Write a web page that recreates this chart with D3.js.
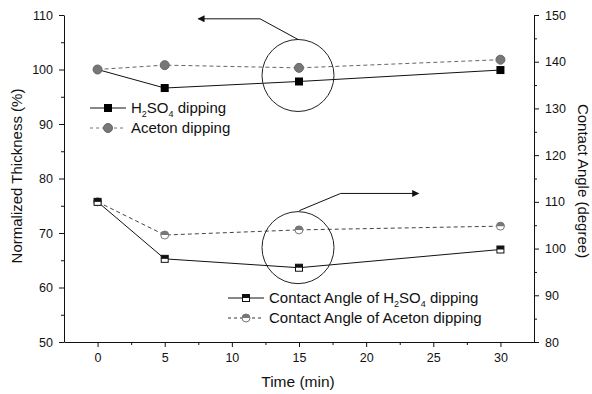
<!DOCTYPE html>
<html>
<head>
<meta charset="utf-8">
<script src="https://cdn.jsdelivr.net/npm/d3@7"></script>
<style>
  body { margin: 0; background: #fff; }
  svg text { font-family: "Liberation Sans", Arial, sans-serif; fill: #111; }
</style>
</head>
<body>
<div id="chart"></div>
<script>
// data
var times = [0, 5, 15, 30]
var thickH2SO4 = [100, 96.6, 97.8, 99.9]
var thickAceton = [100, 100.8, 100.3, 101.8]
var angleH2SO4 = [110, 97.8, 95.9, 99.8]
var angleAceton = [110, 102.9, 104.0, 104.8]

var xTicks = [0, 5, 10, 15, 20, 25, 30]
var leftTicks = [50, 60, 70, 80, 90, 100, 110]
var rightTicks = [80, 90, 100, 110, 120, 130, 140, 150]

var width = 592
var height = 394

var svg = d3.select("#chart")
  .append("svg")
    .attr("width", width)
    .attr("height", height)

var x = d3.scaleLinear().domain([-2.5, 32.5]).range([64, 534])
var yL = d3.scaleLinear().domain([50, 110]).range([342, 15])
var yR = d3.scaleLinear().domain([80, 150]).range([342, 15])

// axes
function styleAxis(g) {
  g.selectAll("path, line").attr("stroke", "#111").attr("stroke-width", 1)
  g.selectAll("text").style("font-size", "12.5px").attr("fill", "#111")
}

svg.append("g")
  .attr("transform", "translate(0,342)")
  .call(d3.axisBottom(x).tickValues(xTicks).tickSize(5).tickSizeOuter(0).tickPadding(6))
  .call(styleAxis)
svg.append("g")
  .attr("transform", "translate(0,342)")
  .call(d3.axisBottom(x).tickValues(d3.range(2.5, 30, 5)).tickSize(3).tickFormat(""))
  .call(styleAxis)
  .select(".domain").remove()

svg.append("g")
  .attr("transform", "translate(64,0)")
  .call(d3.axisLeft(yL).tickValues(leftTicks).tickSize(5).tickSizeOuter(0).tickPadding(6))
  .call(styleAxis)
svg.append("g")
  .attr("transform", "translate(64,0)")
  .call(d3.axisLeft(yL).tickValues(d3.range(55, 110, 10)).tickSize(3).tickFormat(""))
  .call(styleAxis)
  .select(".domain").remove()

svg.append("g")
  .attr("transform", "translate(534,0)")
  .call(d3.axisRight(yR).tickValues(rightTicks).tickSize(5).tickSizeOuter(0).tickPadding(6))
  .call(styleAxis)
svg.append("g")
  .attr("transform", "translate(534,0)")
  .call(d3.axisRight(yR).tickValues(d3.range(85, 150, 10)).tickSize(3).tickFormat(""))
  .call(styleAxis)
  .select(".domain").remove()

// axis titles
svg.append("text")
  .attr("transform", "translate(22,176) rotate(-90)")
  .attr("text-anchor", "middle")
  .style("font-size", "15px")
  .text("Normalized Thickness (%)")
svg.append("text")
  .attr("transform", "translate(578,181) rotate(90)")
  .attr("text-anchor", "middle")
  .style("font-size", "15px")
  .text("Contact Angle (degree)")
svg.append("text")
  .attr("x", 298).attr("y", 387)
  .attr("text-anchor", "middle")
  .style("font-size", "15.5px")
  .text("Time (min)")

// lines
function drawLine(vals, y, color, dash) {
  var line = d3.line()
    .x(function(d, i) { return x(times[i]) })
    .y(function(d) { return y(d) })
  svg.append("path")
    .datum(vals)
    .attr("d", line)
    .attr("fill", "none")
    .attr("stroke", color)
    .attr("stroke-width", 1)
    .attr("stroke-dasharray", dash)
}
drawLine(thickAceton, yL, "#666", "4,3")
drawLine(thickH2SO4, yL, "#111", null)
drawLine(angleAceton, yR, "#444", "4,3")
drawLine(angleH2SO4, yR, "#111", null)

// markers
function squareFull(g, cx, cy) {
  g.append("rect").attr("x", cx - 4).attr("y", cy - 4).attr("width", 8).attr("height", 8).attr("fill", "#000")
}
function circleFull(g, cx, cy) {
  g.append("circle").attr("cx", cx).attr("cy", cy).attr("r", 4.5).attr("fill", "#777").attr("stroke", "#666")
}
function squareHalf(g, cx, cy) {
  g.append("rect").attr("x", cx - 3.5).attr("y", cy - 3.5).attr("width", 7).attr("height", 7).attr("fill", "#fff").attr("stroke", "#111")
  g.append("rect").attr("x", cx - 3.5).attr("y", cy - 3.5).attr("width", 7).attr("height", 3.5).attr("fill", "#111")
}
function circleHalf(g, cx, cy) {
  g.append("circle").attr("cx", cx).attr("cy", cy).attr("r", 4).attr("fill", "#fff").attr("stroke", "#777")
  g.append("path")
    .attr("d", "M" + (cx - 4) + "," + cy + " A4,4 0 0,1 " + (cx + 4) + "," + cy + " Z")
    .attr("fill", "#777")
}

var mk = svg.append("g")
thickAceton.forEach(function(v, i) { circleFull(mk, x(times[i]), yL(v)) })
thickH2SO4.forEach(function(v, i) { if (i > 0) squareFull(mk, x(times[i]), yL(v)) })
angleAceton.forEach(function(v, i) { circleHalf(mk, x(times[i]), yR(v)) })
angleH2SO4.forEach(function(v, i) { squareHalf(mk, x(times[i]), yR(v)) })

// legends
function legendRow(x0, y0, dash, color, marker, parts) {
  svg.append("line").attr("x1", x0).attr("x2", x0 + 36).attr("y1", y0).attr("y2", y0)
    .attr("stroke", color).attr("stroke-dasharray", dash)
  marker(svg, x0 + 18, y0)
  var t = svg.append("text").attr("x", x0 + 41).attr("y", y0 + 5).style("font-size", "15px")
  var shift = 0
  parts.forEach(function(p) {
    if (p.sub) {
      t.append("tspan").attr("dy", 4 - shift).style("font-size", "9px").text(p.sub)
      shift = 4
    } else {
      t.append("tspan").attr("dy", -shift).text(p.t)
      shift = 0
    }
  })
}
var h2so4 = [{t: "H"}, {sub: "2"}, {t: "SO"}, {sub: "4"}]
legendRow(90, 108, null, "#111", squareFull, h2so4.concat([{t: " dipping"}]))
legendRow(90, 128, "3,3", "#777", circleFull, [{t: "Aceton dipping"}])
legendRow(228, 298, null, "#111", squareHalf, [{t: "Contact Angle of "}].concat(h2so4, [{t: " dipping"}]))
legendRow(228, 318, "3,3", "#333", circleHalf, [{t: "Contact Angle of Aceton dipping"}])

// annotations: circles with arrows pointing to each axis
svg.append("defs").append("marker")
  .attr("id", "arrow")
  .attr("viewBox", "0 0 10 10")
  .attr("refX", 9).attr("refY", 5)
  .attr("markerWidth", 8).attr("markerHeight", 7)
  .attr("markerUnits", "userSpaceOnUse")
  .attr("orient", "auto")
  .append("path").attr("d", "M0,0 L10,5 L0,10 Z").attr("fill", "#111")

var anno = [
  {cx: 15, cy: yL(98.9), from: [15, yL(98.9) - 36], mid: [12.1, yL(109.3)], to: [7.5, yL(109.3)]},
  {cx: 15, cy: yR(100.2), from: [15.1, yR(100.2) - 37], mid: [18.1, yR(111.8)], to: [23.9, yR(111.8)]}
]
anno.forEach(function(a) {
  svg.append("circle").attr("cx", x(a.cx) - 1).attr("cy", a.cy).attr("r", 36)
    .attr("fill", "none").attr("stroke", "#222").attr("stroke-width", 1)
  svg.append("path")
    .attr("d", "M" + (x(a.from[0]) - 1) + "," + a.from[1] + " L" + x(a.mid[0]) + "," + a.mid[1] + " L" + x(a.to[0]) + "," + a.to[1])
    .attr("fill", "none").attr("stroke", "#111").attr("stroke-width", 1)
    .attr("marker-end", "url(#arrow)")
})
</script>
</body>
</html>
